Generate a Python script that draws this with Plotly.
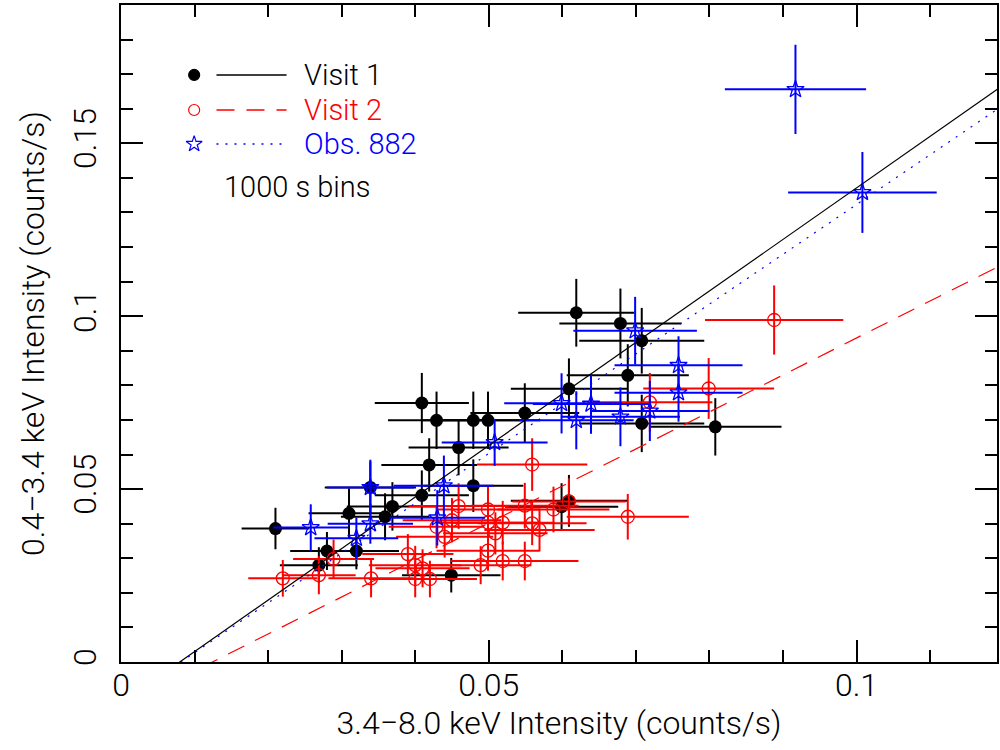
import plotly.graph_objects as go
import numpy as np

# ---------------- data ----------------
# Visit 1 (black filled circles)
v1_x = [0.0210, 0.0269, 0.0280, 0.0310, 0.0320, 0.0339, 0.0359, 0.0369, 0.0409, 0.0409,
        0.0419, 0.0429, 0.0449, 0.0459, 0.0479, 0.0479, 0.0499, 0.0549, 0.0599, 0.0609,
        0.0609, 0.0619, 0.0679, 0.0689, 0.0708, 0.0708, 0.0808]
v1_y = [0.0386, 0.0280, 0.0321, 0.0430, 0.0321, 0.0505, 0.0420, 0.0450, 0.0749, 0.0482,
        0.0570, 0.0699, 0.0251, 0.0620, 0.0699, 0.0510, 0.0699, 0.0720, 0.0449, 0.0466,
        0.0790, 0.1010, 0.0979, 0.0829, 0.0929, 0.0690, 0.0680]
v1_xerr = [0.0046, 0.0053, 0.0050, 0.0055, 0.0058, 0.0062, 0.0060, 0.0062, 0.0064, 0.0064,
           0.0065, 0.0066, 0.0067, 0.0068, 0.0070, 0.0068, 0.0071, 0.0074, 0.0077, 0.0079,
           0.0079, 0.0079, 0.0083, 0.0083, 0.0085, 0.0085, 0.0090]
v1_yerr = [0.0060, 0.0052, 0.0055, 0.0072, 0.0053, 0.0075, 0.0068, 0.0070, 0.0087, 0.0072,
           0.0077, 0.0083, 0.0050, 0.0080, 0.0083, 0.0076, 0.0083, 0.0086, 0.0068, 0.0075,
           0.0088, 0.0098, 0.0101, 0.0090, 0.0095, 0.0083, 0.0083]

# Visit 2 (red open circles)
v2_x = [0.0220, 0.0269, 0.0289, 0.0340, 0.0390, 0.0400, 0.0400, 0.0410, 0.0420, 0.0429,
        0.0440, 0.0450, 0.0459, 0.0489, 0.0499, 0.0499, 0.0499, 0.0509, 0.0519, 0.0519,
        0.0549, 0.0549, 0.0559, 0.0559, 0.0569, 0.0588, 0.0609, 0.0689, 0.0719, 0.0799,
        0.0888]
v2_y = [0.0242, 0.0251, 0.0298, 0.0242, 0.0312, 0.0280, 0.0240, 0.0271, 0.0240, 0.0391,
        0.0362, 0.0410, 0.0451, 0.0280, 0.0441, 0.0403, 0.0322, 0.0372, 0.0403, 0.0292,
        0.0452, 0.0292, 0.0571, 0.0401, 0.0382, 0.0441, 0.0464, 0.0420, 0.0751, 0.0791,
        0.0989]
v2_xerr = [0.0047, 0.0050, 0.0055, 0.0058, 0.0062, 0.0063, 0.0063, 0.0064, 0.0064, 0.0065,
           0.0066, 0.0067, 0.0068, 0.0069, 0.0070, 0.0070, 0.0070, 0.0071, 0.0071, 0.0071,
           0.0073, 0.0073, 0.0075, 0.0074, 0.0075, 0.0076, 0.0077, 0.0083, 0.0085, 0.0089,
           0.0094]
v2_yerr = [0.0053, 0.0055, 0.0056, 0.0055, 0.0058, 0.0056, 0.0053, 0.0055, 0.0053, 0.0062,
           0.0060, 0.0064, 0.0066, 0.0055, 0.0066, 0.0063, 0.0058, 0.0061, 0.0063, 0.0056,
           0.0066, 0.0056, 0.0076, 0.0063, 0.0062, 0.0066, 0.0067, 0.0066, 0.0085, 0.0088,
           0.0100]

# Obs. 882 (blue open stars)
ob_x = [0.0258, 0.0320, 0.0339, 0.0339, 0.0430, 0.0439, 0.0508, 0.0599, 0.0619, 0.0639,
        0.0679, 0.0699, 0.0719, 0.0758, 0.0758, 0.0917, 0.1008]
ob_y = [0.0389, 0.0358, 0.0400, 0.0505, 0.0417, 0.0510, 0.0635, 0.0748, 0.0699, 0.0746,
        0.0709, 0.0958, 0.0726, 0.0858, 0.0779, 0.1656, 0.1358]
ob_xerr = [0.0051, 0.0057, 0.0058, 0.0059, 0.0065, 0.0068, 0.0072, 0.0078, 0.0078, 0.0079,
           0.0081, 0.0084, 0.0081, 0.0087, 0.0087, 0.0096, 0.0101]
ob_yerr = [0.0067, 0.0060, 0.0058, 0.0080, 0.0080, 0.0087, 0.0068, 0.0087, 0.0084, 0.0086,
           0.0085, 0.0098, 0.0087, 0.0084, 0.0084, 0.0129, 0.0117]

# linear fits: slope, intercept
fit_v1 = (1.49, -0.0119)
fit_v2 = (1.07, -0.0133)
fit_ob = (1.44, -0.0117)

legend_labels = ["Visit 1", "Visit 2", "Obs. 882"]
note_text = "1000 s bins"
x_title = "3.4\u22128.0 keV Intensity (counts/s)"
y_title = "0.4\u22123.4 keV Intensity (counts/s)"

# ---------------- figure ----------------
FONT = dict(family="Roboto, Liberation Sans, sans-serif", size=32, color="black", weight=300)
LEGFONT = dict(FONT, size=29)
BLACK, RED, BLUE = "#000000", "#ff0000", "#0000ff"

fig = go.Figure()
xfit = np.linspace(0, 0.125, 50)

def add_series(x, y, xe, ye, color, symbol, size, lw):
    fig.add_trace(go.Scatter(
        x=x, y=y, mode="markers",
        error_x=dict(type="data", array=xe, visible=True, color=color, thickness=2, width=0),
        error_y=dict(type="data", array=ye, visible=True, color=color, thickness=2, width=0),
        marker=dict(symbol=symbol, size=size, color=color, line=dict(color=color, width=lw)),
        showlegend=False, cliponaxis=True))

add_series(v1_x, v1_y, v1_xerr, v1_yerr, BLACK, "circle", 13, 0)
add_series(v2_x, v2_y, v2_xerr, v2_yerr, RED, "circle-open", 13, 1.3)
add_series(ob_x, ob_y, ob_xerr, ob_yerr, BLUE, "star-open", 13, 1.3)

for (m, b), color, dash in [(fit_v1, BLACK, "solid"), (fit_v2, RED, "18px,12px"), (fit_ob, BLUE, "2px,7px")]:
    fig.add_trace(go.Scatter(x=xfit, y=m * xfit + b, mode="lines",
                             line=dict(color=color, width=1.2, dash=dash), showlegend=False))

# ---- legend drawn inside the plot (overlay axes spanning the plot area) ----
leg_y = [0.8935, 0.8402, 0.7884]
leg_cols = [BLACK, RED, BLUE]
leg_syms = ["circle", "circle-open", "star-open"]
leg_sizes = [11, 11, 12]
leg_dash = ["solid", "18px,12px", "2px,7px"]
for yy, col, sym, sz, dsh, lab in zip(leg_y, leg_cols, leg_syms, leg_sizes, leg_dash, legend_labels):
    fig.add_trace(go.Scatter(x=[0.0835], y=[yy], xaxis="x2", yaxis="y2", mode="markers",
                             marker=dict(symbol=sym, size=sz, color=col, line=dict(color=col, width=1.2)),
                             showlegend=False, cliponaxis=False, hoverinfo="skip"))
    fig.add_trace(go.Scatter(x=[0.109, 0.189], y=[yy, yy], xaxis="x2", yaxis="y2", mode="lines",
                             line=dict(color=col, width=1.5, dash=dsh),
                             showlegend=False, hoverinfo="skip"))
    fig.add_annotation(x=0.207, y=yy, xref="paper", yref="paper", text=lab, showarrow=False,
                       xanchor="left", yanchor="middle", font=dict(LEGFONT, color=col))
fig.add_annotation(x=0.115, y=0.7234, xref="paper", yref="paper", text=note_text, showarrow=False,
                   xanchor="left", yanchor="middle", font=LEGFONT)

axis_common = dict(
    showgrid=False, zeroline=False, showline=True, linewidth=2, linecolor="black",
    mirror="allticks", ticks="inside", ticklen=22, tickwidth=1.5, tickcolor="black",
    tickfont=FONT, dtick=0.05, tick0=0,
    minor=dict(dtick=0.01, tick0=0, ticks="inside", ticklen=12, tickwidth=1.5, tickcolor="black"),
)

fig.update_layout(
    width=1000, height=750,
    margin=dict(l=121, r=1, t=5, b=88),
    paper_bgcolor="white", plot_bgcolor="white",
    showlegend=False,
    xaxis=dict(axis_common, range=[0, 0.1191], ticklabelstandoff=-6,
               title=dict(text=x_title, font=FONT, standoff=2)),
    yaxis=dict(axis_common, range=[0, 0.19], tickangle=-90, ticklabelstandoff=10,
               title=dict(text=y_title, font=FONT, standoff=12)),
    xaxis2=dict(overlaying="x", range=[0, 1], visible=False),
    yaxis2=dict(overlaying="y", range=[0, 1], visible=False),
)

fig.write_html("out.html")
